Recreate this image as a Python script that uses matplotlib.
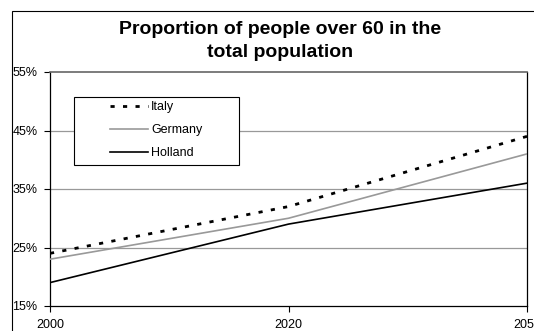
import matplotlib.pyplot as plt
from matplotlib.patches import Rectangle

plt.rcParams['font.family'] = ['Liberation Sans', 'DejaVu Sans']

# data
years = ['2000', '2020', '2050']
italy = [24, 32, 44]
germany = [23, 30, 41]
holland = [19, 29, 36]
yticks = [15, 25, 35, 45, 55]

W, H = 534, 331
fig = plt.figure(figsize=(W / 100, H / 100), dpi=100)

# outer chart frame (cropped on the right and bottom)
fig.patches.append(Rectangle((11.5 / W, -0.2), 1.5, (H - 11.5) / H + 0.2,
                             transform=fig.transFigure, fill=False,
                             edgecolor='black', linewidth=0.8))

ax = fig.add_axes([50 / W, (H - 306) / H, (527 - 50) / W, (306 - 72) / H])
x = range(len(years))

for v in [25, 35, 45]:
    ax.axhline(v, color='#999999', linewidth=0.9, zorder=1)

ax.plot(x, italy, color='black', linewidth=2.0, linestyle=(0, (1.5, 3.0)),
        label='Italy', zorder=3)
ax.plot(x, germany, color='#999999', linewidth=1.2, label='Germany', zorder=3)
ax.plot(x, holland, color='black', linewidth=1.2, label='Holland', zorder=3)

ax.set_ylim(15, 55)
ax.set_xlim(0, 2)
ax.set_yticks(yticks)
ax.set_yticklabels([f'{v}%' for v in yticks])
ax.set_xticks(list(x))
ax.set_xticklabels(years)
ax.tick_params(axis='both', labelsize=9, length=4, width=0.8, direction='out',
               colors='black')
ax.tick_params(axis='y', pad=5)
ax.tick_params(axis='x', pad=5)

ax.spines['top'].set_color('#666666')
ax.spines['top'].set_linewidth(1.2)
for s in ['left', 'bottom', 'right']:
    ax.spines[s].set_linewidth(0.9)

# legend box drawn separately (wide Excel-style padding)
fig.patches.append(Rectangle((74 / W, 1 - 165 / H), (239 - 74) / W, (165 - 97) / H,
                             transform=fig.transFigure, facecolor='white',
                             edgecolor='black', linewidth=0.8, zorder=4))
leg = fig.legend(*ax.get_legend_handles_labels(), loc='upper left',
                 bbox_to_anchor=(110 / W, 1 - 101 / H),
                 fontsize=9, frameon=False, borderpad=0, borderaxespad=0,
                 handlelength=3.0, handletextpad=0.3, labelspacing=0.9)
leg.set_zorder(5)

fig.text(280 / W, 1 - 34 / H, 'Proportion of people over 60 in the',
         ha='center', va='baseline', fontsize=14, fontweight='bold')
fig.text(280 / W, 1 - 57 / H, 'total population',
         ha='center', va='baseline', fontsize=14, fontweight='bold')

fig.savefig('out.png', dpi=100)
